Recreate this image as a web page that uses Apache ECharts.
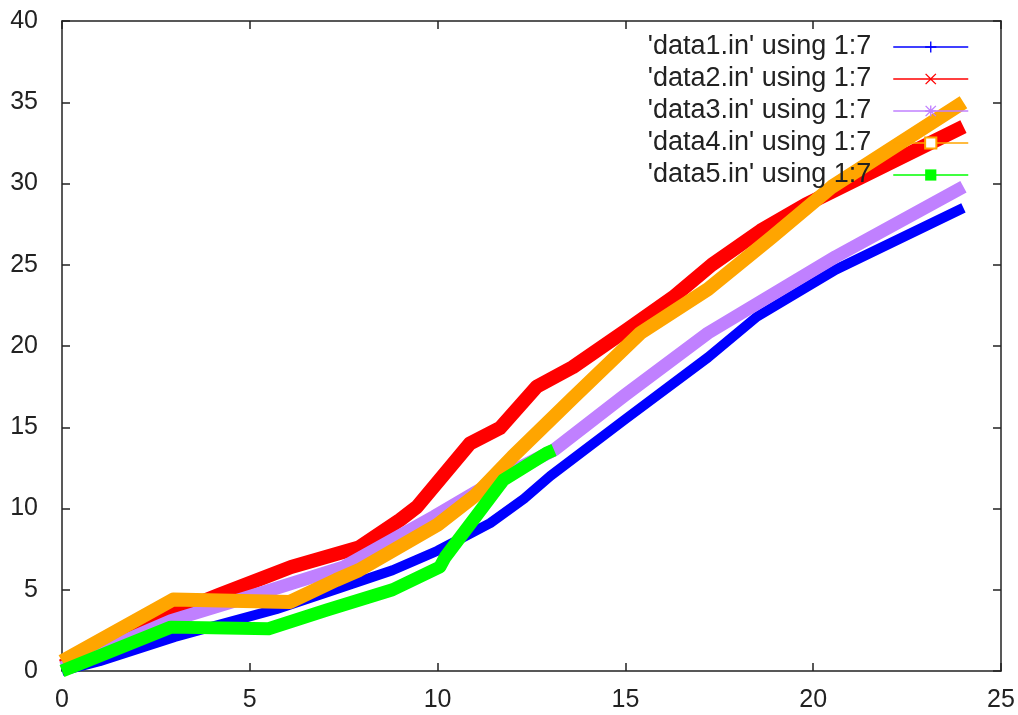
<!DOCTYPE html>
<html>
<head>
<meta charset="utf-8">
<script src="https://cdn.jsdelivr.net/npm/echarts@6/dist/echarts.min.js"></script>
<style>
  html, body { margin: 0; padding: 0; background: #fff; }
  #main { width: 1018px; height: 715px; }
</style>
</head>
<body>
<div id="main"></div>
<script>
// values (x = column 1, y = column 7)
var x1 = [0, 1, 3, 5.7, 7, 8.8, 10, 11.4, 12.3, 13, 15, 17.2, 18.5, 20.6, 24];
var y1 = [0, 0.6, 2.1, 3.8, 4.8, 6.2, 7.4, 9.1, 10.6, 12.0, 15.5, 19.3, 21.8, 24.7, 28.5];

var x2 = [0, 3, 4.2, 6.1, 7.9, 9.0, 9.45, 10.86, 11.66, 12.64, 13.6, 15.04, 16.27, 17.3, 18.6, 19.8, 24];
var y2 = [0.3, 3.6, 4.7, 6.4, 7.6, 9.3, 10.1, 14.0, 14.95, 17.5, 18.7, 21.0, 23.0, 25.0, 27.1, 28.7, 33.5];

var x3 = [0, 2.9, 5.3, 7.5, 9.9, 11, 12, 13.1, 15.0, 17.2, 18.5, 20.6, 24];
var y3 = [0.2, 3.1, 4.8, 6.4, 9.5, 11.0, 12.3, 13.6, 17.0, 20.8, 22.6, 25.5, 29.8];

var x4 = [0, 2.96, 6.07, 7.3, 7.9, 10, 11, 12, 13.6, 15.4, 17.2, 18.9, 20.5, 24];
var y4 = [0.6, 4.4, 4.25, 5.6, 6.2, 9.0, 10.8, 13.2, 16.8, 20.8, 23.5, 26.7, 29.8, 35.0];

var x5 = [0, 2.9, 5.5, 7.05, 8.8, 10.06, 10.2, 11.75, 12.9, 13.1];
var y5 = [0, 2.7, 2.6, 3.75, 5.0, 6.4, 7.0, 11.75, 13.4, 13.6];

var names = ["'data1.in' using 1:7", "'data2.in' using 1:7", "'data3.in' using 1:7",
             "'data4.in' using 1:7", "'data5.in' using 1:7"];
var colors = ['#0000ff', '#ff0000', '#c080ff', '#ffa500', '#00ff00'];
var widths = [10, 14, 13, 14, 13];

// legend point markers like gnuplot's
var plusPath = 'path://M4.4,0H5.6V4.4H10V5.6H5.6V10H4.4V5.6H0V4.4H4.4Z';
var crossPath = 'path://M0.8,0L5,4.2L9.2,0L10,0.8L5.8,5L10,9.2L9.2,10L5,5.8L0.8,10L0,9.2L4.2,5L0,0.8Z';
var starPath = 'path://M4.4,0H5.6V4.4H10V5.6H5.6V10H4.4V5.6H0V4.4H4.4Z M0.8,0L5,4.2L9.2,0L10,0.8L5.8,5L10,9.2L9.2,10L5,5.8L0.8,10L0,9.2L4.2,5L0,0.8Z';
var symbols = [plusPath, crossPath, starPath, 'emptyRect', 'rect'];

function pairs(xs, ys) {
    var out = [];
    for (var i = 0; i < xs.length; i++) {
        out.push([xs[i], ys[i]]);
    }
    return out;
}

var allX = [x1, x2, x3, x4, x5];
var allY = [y1, y2, y3, y4, y5];

var series = [];
for (var i = 0; i < 5; i++) {
    series.push({
        name: names[i],
        type: 'line',
        data: pairs(allX[i], allY[i]),
        symbol: symbols[i],
        showSymbol: false,
        symbolSize: 11,
        color: colors[i],
        itemStyle: { color: colors[i] },
        lineStyle: { color: colors[i], width: widths[i], join: 'round' },
        animation: false,
        silent: true
    });
}

var font = 'Liberation Sans';
var axisColor = '#222';
// ticks point into the plot like gnuplot's, mirror axes make the frame
var tick = { show: true, inside: true, length: 8, lineStyle: { color: axisColor, width: 1.5 } };
var line = { show: true, onZero: false, lineStyle: { color: axisColor, width: 1.5 } };

var myChart = echarts.init(document.getElementById('main'));
myChart.setOption({
    backgroundColor: '#fff',
    animation: false,
    grid: { left: 62, right: 17, top: 21, bottom: 44 },
    legend: {
        orient: 'vertical',
        right: 44,
        top: 26,
        align: 'right',
        itemWidth: 75,
        itemHeight: 14,
        itemGap: 0,
        data: names,
        lineStyle: { width: 1.5 },
        textStyle: {
            fontFamily: font,
            fontSize: 27,
            color: '#222',
            lineHeight: 32,
            padding: [0, 17, 0, 0]
        },
        selectedMode: false
    },
    xAxis: [{
        type: 'value',
        min: 0, max: 25, interval: 5,
        axisLine: line,
        axisTick: tick,
        axisLabel: { margin: 17, fontFamily: font, fontSize: 25, color: '#222' },
        splitLine: { show: false }
    }, {
        type: 'value', position: 'top',
        min: 0, max: 25, interval: 5,
        axisLine: line,
        axisTick: tick,
        axisLabel: { show: false },
        splitLine: { show: false }
    }],
    yAxis: [{
        type: 'value',
        min: 0, max: 40, interval: 5,
        axisLine: line,
        axisTick: tick,
        axisLabel: { margin: 24, fontFamily: font, fontSize: 25, color: '#222' },
        splitLine: { show: false }
    }, {
        type: 'value', position: 'right',
        min: 0, max: 40, interval: 5,
        axisLine: line,
        axisTick: tick,
        axisLabel: { show: false },
        splitLine: { show: false }
    }],
    series: series
});
</script>
</body>
</html>
